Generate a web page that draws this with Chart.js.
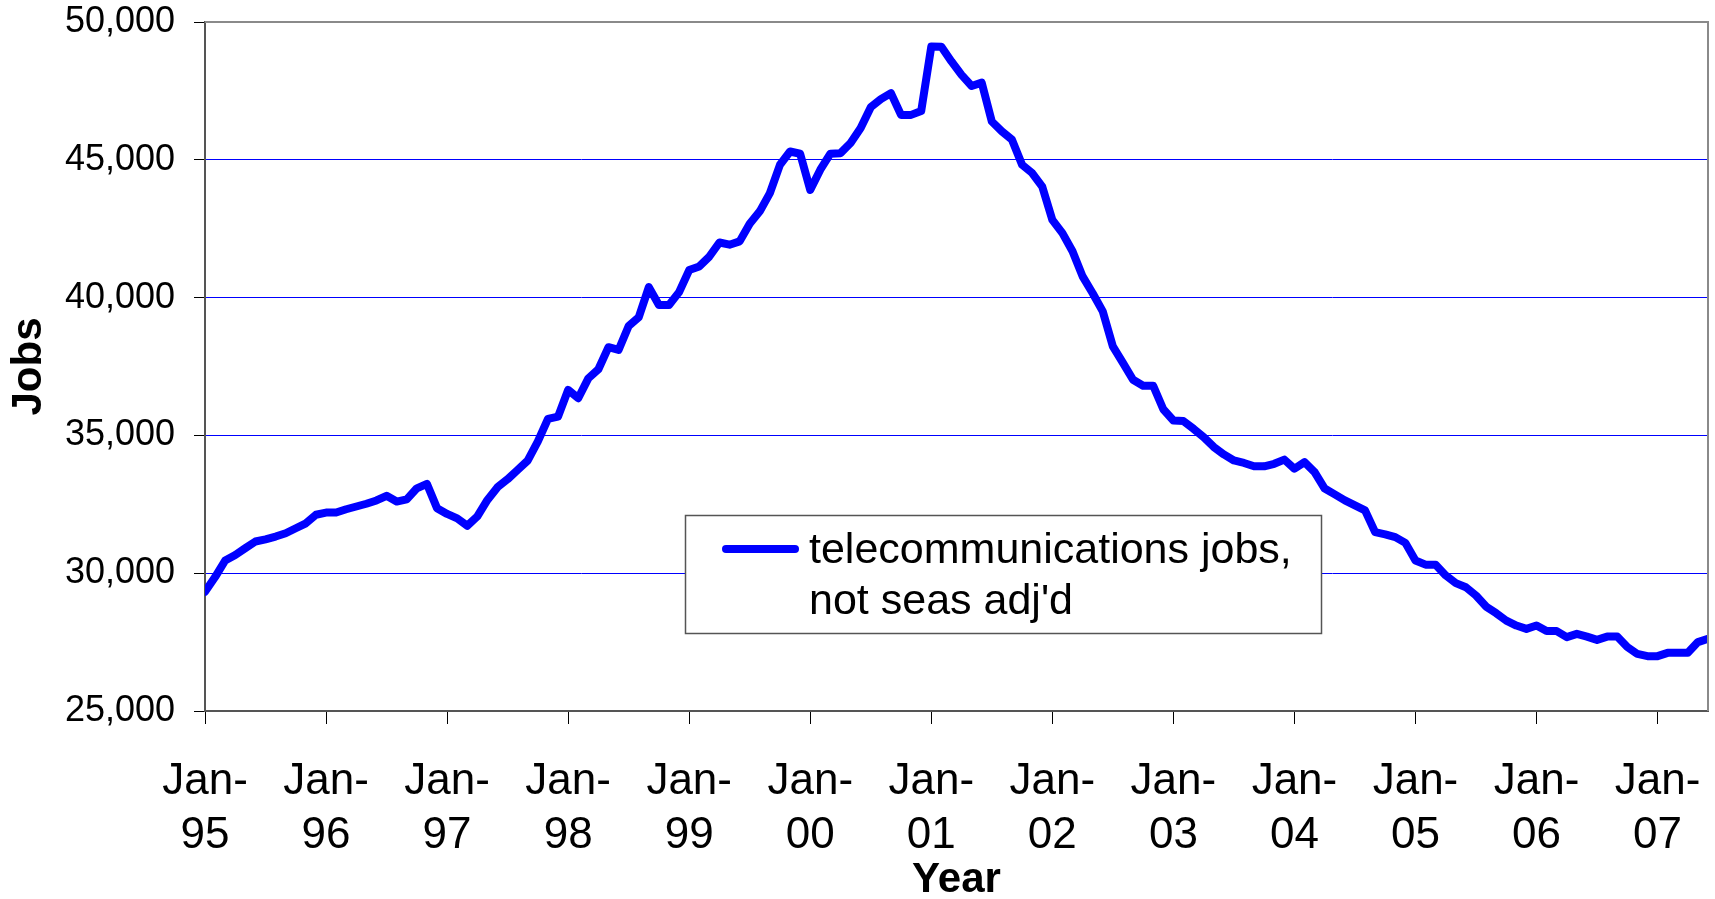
<!DOCTYPE html>
<html>
<head>
<meta charset="utf-8">
<title>Telecommunications jobs</title>
<script src="https://cdn.jsdelivr.net/npm/chart.js@4.4.1/dist/chart.umd.min.js"></script>
<style>
  html, body { margin: 0; padding: 0; background: #fff; }
  #cadre { width: 1715px; height: 899px; }
</style>
</head>
<body>
<div id="cadre"><canvas id="graphiqueEmplois" width="1715" height="899"></canvas></div>
<script>
var years = ['95', '96', '97', '98', '99', '00', '01', '02', '03', '04', '05', '06', '07'];
var monthNames = ['Jan', 'Feb', 'Mar', 'Apr', 'May', 'Jun', 'Jul', 'Aug', 'Sep', 'Oct', 'Nov', 'Dec'];

// monthly values, Jan-95 .. Jun-07, one row per year
var jobs = [
    29330, 29860, 30460, 30660, 30910, 31150, 31230, 31330, 31450, 31630, 31810, 32120,
    32200, 32200, 32320, 32420, 32520, 32640, 32810, 32600, 32680, 33080, 33240, 32360,
    32150, 31990, 31720, 32060, 32660, 33120, 33410, 33750, 34090, 34780, 35600, 35680,
    36650, 36350, 37070, 37400, 38200, 38100, 38970, 39290, 40380, 39730, 39730, 40200,
    41000, 41130, 41490, 42000, 41920, 42040, 42680, 43130, 43790, 44820, 45300, 45220,
    43910, 44640, 45220, 45240, 45610, 46150, 46910, 47200, 47420, 46630, 46630, 46770,
    49110, 49100, 48570, 48080, 47680, 47800, 46390, 46030, 45730, 44820, 44520, 44030,
    42820, 42340, 41680, 40770, 40160, 39500, 38230, 37630, 37020, 36800, 36800, 35950,
    35540, 35520, 35240, 34940, 34580, 34310, 34090, 34000, 33880, 33880, 33970, 34120,
    33790, 34030, 33670, 33070, 32860, 32640, 32460, 32280, 31490, 31410, 31310, 31100,
    30460, 30310, 30310, 29920, 29640, 29490, 29190, 28790, 28550, 28280, 28100, 27980,
    28100, 27900, 27900, 27680, 27800, 27700, 27580, 27700, 27700, 27320, 27070, 26990,
    26990, 27110, 27110, 27110, 27500, 27620
];

var yTicks = [25000, 30000, 35000, 40000, 45000, 50000];
var seriesLabel = ['telecommunications jobs,', "not seas adj'd"];

var categories = [];
for (var i = 0; i < jobs.length; i++) {
    categories.push(monthNames[i % 12] + '-' + years[Math.floor(i / 12)]);
}

var police = '"Liberation Sans", Arial, Helvetica, sans-serif';
Chart.defaults.font.family = police;
Chart.defaults.color = '#000';

// plot frame (top/right) and the boxed legend inside the plot
var cadreEtLegende = {
    id: 'cadreEtLegende',
    afterDraw: function(chart) {
        var ctx = chart.ctx;
        var a = chart.chartArea;
        ctx.save();
        ctx.strokeStyle = '#8a8a8a';
        ctx.lineWidth = 2;
        ctx.beginPath();
        ctx.moveTo(a.left, a.top);
        ctx.lineTo(a.right, a.top);
        ctx.lineTo(a.right, a.bottom);
        ctx.stroke();

        var ds = chart.data.datasets[0];
        ctx.fillStyle = '#fff';
        ctx.fillRect(685, 515, 636, 118);
        ctx.strokeStyle = '#555';
        ctx.lineWidth = 1.5;
        ctx.strokeRect(685.5, 515.5, 636, 118);

        ctx.strokeStyle = ds.borderColor;
        ctx.lineWidth = 8;
        ctx.lineCap = 'round';
        ctx.beginPath();
        ctx.moveTo(726, 549);
        ctx.lineTo(795, 549);
        ctx.stroke();

        ctx.fillStyle = '#000';
        ctx.font = '43px ' + police;
        ctx.textBaseline = 'middle';
        ctx.fillText(seriesLabel[0], 809, 551);
        ctx.fillText(seriesLabel[1], 809, 602);
        ctx.restore();
    }
};

var ctx = document.getElementById('graphiqueEmplois').getContext('2d');
var chart = new Chart(ctx, {
    type: 'line',
    data: {
        labels: categories,
        datasets: [
            {
                label: seriesLabel.join(' '),
                data: jobs,
                borderColor: '#0000ff',
                borderWidth: 8,
                borderJoinStyle: 'round',
                borderCapStyle: 'round',
                pointRadius: 0,
                tension: 0,
                fill: false,
                clip: 0
            }
        ]
    },
    options: {
        responsive: false,
        animation: false,
        layout: { padding: { top: 22, right: 7, left: 0, bottom: 0 } },
        plugins: {
            legend: { display: false },
            tooltip: { enabled: false }
        },
        scales: {
            x: {
                type: 'category',
                offset: false,
                afterFit: function(axis) {
                    axis.height = 188;
                    axis.paddingLeft = 0;
                    axis.paddingRight = 0;
                },
                grid: { drawOnChartArea: false, tickLength: 13, tickColor: '#000', tickWidth: 1 },
                border: { color: '#555', width: 2 },
                ticks: {
                    autoSkip: false,
                    maxRotation: 0,
                    minRotation: 0,
                    padding: 31,
                    font: { size: 44, lineHeight: 1.23 },
                    callback: function(value, index) {
                        var c = categories[index];
                        if (c.indexOf('Jan') !== 0) return null;
                        return ['Jan-', c.slice(4)];
                    }
                },
                title: {
                    display: true,
                    text: 'Year',
                    font: { size: 42, weight: 'bold', lineHeight: 0.9 },
                    padding: 0
                }
            },
            y: {
                min: 25000,
                max: 50000,
                afterBuildTicks: function(axis) {
                    axis.ticks = yTicks.map(function(v) { return { value: v }; });
                },
                afterFit: function(axis) {
                    axis.width = 205;
                    axis.paddingTop = 0;
                    axis.paddingBottom = 0;
                },
                grid: { color: '#0000ff', lineWidth: 1, tickLength: 11, tickColor: '#000', tickWidth: 1 },
                border: { color: '#555', width: 2 },
                ticks: {
                    padding: 19,
                    font: { size: 36 },
                    callback: function(v) { return v.toLocaleString('en-US'); }
                },
                title: {
                    display: true,
                    text: 'Jobs',
                    font: { size: 42, weight: 'bold', lineHeight: 1.2 },
                    padding: { top: 4, bottom: 0 }
                }
            }
        }
    },
    plugins: [cadreEtLegende]
});
</script>
</body>
</html>
